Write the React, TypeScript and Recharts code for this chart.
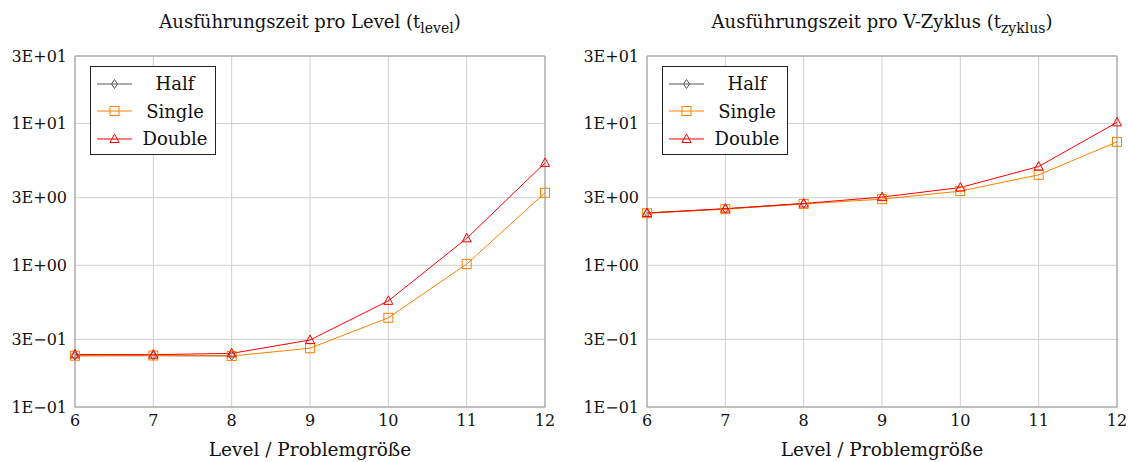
import { LineChart, Line, XAxis, YAxis, CartesianGrid, Legend, ReferenceLine } from 'recharts';

const levels = [6, 7, 8, 9, 10, 11, 12];
const yTicks = [0.1, 0.3, 1, 3, 10, 30];
const yTickLabels = ['1E−01', '3E−01', '1E+00', '3E+00', '1E+01', '3E+01'];

// t_level (seconds)
const levelHalf = [0.23, 0.23, 0.23, null, null, null, null];
const levelSingle = [0.23, 0.231, 0.229, 0.26, 0.426, 1.02, 3.25];
const levelDouble = [0.235, 0.234, 0.239, 0.297, 0.561, 1.55, 5.28];

// t_zyklus (seconds)
const zyklusHalf = [2.34, 2.5, 2.73, null, null, null, null];
const zyklusSingle = [2.33, 2.49, 2.71, 2.93, 3.34, 4.35, 7.43];
const zyklusDouble = [2.34, 2.51, 2.73, 3.03, 3.54, 4.98, 10.2];

const FONT = '"DejaVu Serif", serif';
const GRID = '#cfcfcf';
const FRAME = '#9a9a9a';

const series = [
  { key: 'half', name: 'Half', color: '#5a5a5a', mark: 'diamond' },
  { key: 'single', name: 'Single', color: '#ff8000', mark: 'square' },
  { key: 'double', name: 'Double', color: '#ff0000', mark: 'triangle' },
];

const Mark = ({ cx, cy, mark, color }: any) => {
  if (mark === 'square') {
    return <rect x={cx - 4.5} y={cy - 4.5} width={9} height={9} fill="none" stroke={color} strokeWidth={1} />;
  }
  if (mark === 'triangle') {
    return <polygon points={`${cx},${cy - 5} ${cx - 4.5},${cy + 3.5} ${cx + 4.5},${cy + 3.5}`} fill="none" stroke={color} strokeWidth={1} />;
  }
  return <polygon points={`${cx},${cy - 4.5} ${cx + 3},${cy} ${cx},${cy + 4.5} ${cx - 3},${cy}`} fill="none" stroke={color} strokeWidth={1} />;
};

const LegendBox = () => (
  <div style={{ border: '1px solid #222', background: '#fff', width: 124, height: 87, fontFamily: FONT, fontSize: 18, boxSizing: 'content-box' }}>
    {series.map((s, i) => (
      <div key={s.key} style={{ display: 'flex', alignItems: 'center', height: 27.5, marginTop: i === 0 ? 3 : 0 }}>
        <svg width={44} height={20} style={{ flex: 'none' }}>
          <line x1={6} y1={10} x2={41} y2={10} stroke={s.color} strokeWidth={1} />
          <Mark cx={23.5} cy={10} mark={s.mark} color={s.color} />
        </svg>
        <span style={{ flex: 1, textAlign: 'center', color: '#111' }}>{s.name}</span>
      </div>
    ))}
  </div>
);

const makeRows = (half: (number | null)[], single: number[], double: number[]) =>
  levels.map((level, i) => ({ level, half: half[i], single: single[i], double: double[i] }));

const Panel = ({ title, sub, data, left, width }: any) => (
  <div style={{ position: 'absolute', left, top: 0, width, height: 462 }}>
    <div style={{ position: 'absolute', left: 75, top: 11, width: 470, textAlign: 'center', fontFamily: FONT, fontSize: 18, color: '#111', whiteSpace: 'nowrap' }}>
      {title} (t<sub style={{ fontSize: 14 }}>{sub}</sub>)
    </div>
    <LineChart width={width} height={462} data={data} margin={{ top: 56, right: width - 545, left: 0, bottom: 25 }}>
      <CartesianGrid stroke={GRID} strokeWidth={1} />
      <XAxis
        dataKey="level"
        type="number"
        domain={[6, 12]}
        ticks={levels}
        height={30}
        axisLine={{ stroke: FRAME }}
        tickLine={false}
        tick={{ fill: '#111', fontFamily: FONT, fontSize: 16 }}
        label={{ value: 'Level / Problemgröße', position: 'bottom', offset: 6, style: { fill: '#111', fontFamily: FONT, fontSize: 18.5 } }}
      />
      <YAxis
        scale="log"
        domain={[0.1, 30]}
        ticks={yTicks}
        allowDataOverflow
        width={75}
        axisLine={{ stroke: FRAME }}
        tickLine={false}
        tick={{ fill: '#111', fontFamily: FONT, fontSize: 16 }}
        tickFormatter={(v: number) => yTickLabels[yTicks.indexOf(v)] ?? ''}
      />
      <ReferenceLine y={30} stroke={FRAME} />
      <ReferenceLine x={12} stroke={FRAME} />
      {series.map((s) => (
        <Line
          key={s.key}
          dataKey={s.key}
          name={s.name}
          type="linear"
          stroke={s.color}
          strokeWidth={1}
          isAnimationActive={false}
          dot={(p: any) =>
            p.cy == null || p.value == null ? <g key={p.index} /> : <Mark key={p.index} cx={p.cx} cy={p.cy} mark={s.mark} color={s.color} />
          }
          activeDot={false}
        />
      ))}
      <Legend layout="vertical" align="center" verticalAlign="middle" content={() => <LegendBox />} wrapperStyle={{ left: 90, top: 66, width: 126, height: 89 }} />
    </LineChart>
  </div>
);

export default function App() {
  return (
    <div style={{ position: 'absolute', left: 0, top: 0, width: 1128, height: 462, background: '#fff' }}>
      <Panel title="Ausführungszeit pro Level" sub="level" data={makeRows(levelHalf, levelSingle, levelDouble)} left={0} width={564} />
      <Panel title="Ausführungszeit pro V-Zyklus" sub="zyklus" data={makeRows(zyklusHalf, zyklusSingle, zyklusDouble)} left={572} width={556} />
    </div>
  );
}
